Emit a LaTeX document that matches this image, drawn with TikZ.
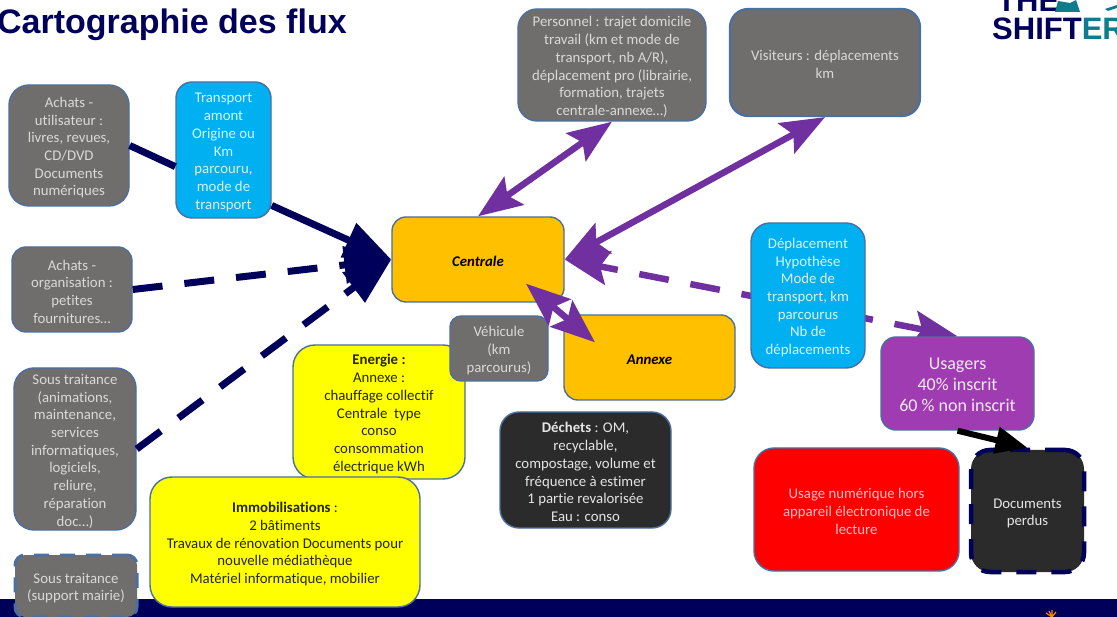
\documentclass[tikz,border=0pt]{standalone}
\usepackage{fontspec}
\setmainfont[Ligatures=NoCommon]{Carlito}
\newfontfamily\titlefont{Liberation Sans}
\usetikzlibrary{arrows.meta,calc}
\pgfdeclarelayer{under}
\pgfsetlayers{under,main}
\newcommand\topgap{\rule{0pt}{14.5pt}}
\definecolor{navy}{HTML}{00005A}
\definecolor{edge}{HTML}{4A6FA0}
\definecolor{greybox}{HTML}{706E6D}
\definecolor{darkbox}{HTML}{2B2B2B}
\definecolor{cyanbox}{HTML}{00B0F0}
\definecolor{orangebox}{HTML}{FFC000}
\definecolor{yellowbox}{HTML}{FFFF00}
\definecolor{redbox}{HTML}{FF0000}
\definecolor{usagerbox}{HTML}{A03CB2}
\definecolor{purpleflow}{HTML}{7030A0}
\definecolor{teal}{HTML}{0E7C8A}
\tikzset{
  x=1pt,y=1pt,
  box/.style={rectangle,draw=edge,line width=1.4pt,align=center,inner sep=0pt,
    font=\fontsize{14.8}{17.7}\selectfont},
  greyb/.style={box,fill=greybox,text=white!85!black},
  cyanb/.style={box,fill=cyanbox,text=white!85!cyanbox},
  orangeb/.style={box,fill=orangebox,text=black,font=\fontsize{14.8}{17.7}\selectfont\bfseries\itshape},
  yellowb/.style={box,fill=yellowbox,text=black!85!yellowbox},
  darkb/.style={box,fill=darkbox,text=white!90!black},
  navyflow/.style={navy,line width=7pt},
  navytip/.style={-{Triangle[length=47pt,width=36pt,sep=0pt]}},
  purpleline/.style={purpleflow,line width=6.5pt},
  purpletips/.style={{Stealth[length=44pt,width=34pt,inset=8pt,sep=0pt]}-{Stealth[length=44pt,width=34pt,inset=8pt,sep=0pt]}},
  longdash/.style={dash pattern=on 30pt off 22pt},
}
\begin{document}
\begin{tikzpicture}
\useasboundingbox (0,0) rectangle (1117,-617);
\clip (0,0) rectangle (1117,-617);
\fill[navy] (0,-599) rectangle (1117,-617);

% Title and logo
\node[anchor=base west,inner sep=0pt,text=navy,font=\titlefont\bfseries\fontsize{34}{34}\selectfont] (title) at (-3,-34) {Cartographie des flux};
\node[anchor=base west,inner sep=0pt,text=navy,font=\titlefont\bfseries\fontsize{31}{31}\selectfont] (logoa) at (992,-40) {SHIFT\textcolor{teal}{ERS}};
\node[anchor=base west,inner sep=0pt,text=navy,font=\titlefont\bfseries\fontsize{31}{31}\selectfont] (logob) at (997,-12) {THE};
\fill[teal] (1055,-12) -- (1058,-1) -- (1070,-3) -- (1076,0) -- (1080,-12) -- cycle;
\fill[teal] (1105,-9) -- (1117,-5) -- (1117,-8) -- (1108,-11) -- cycle;
\draw[orange,line width=1.2pt] (1052,-617) -- (1046,-613) (1052,-617) -- (1049,-611) (1052,-617) -- (1052,-610) (1052,-617) -- (1056,-612);

% Boxes
\node[greyb,minimum width=120pt,minimum height=121pt,rounded corners=20pt] (achatsu) at (69,-145.5)
  {\topgap Achats -\\utilisateur :\\livres, revues,\\CD/DVD\\Documents\\numériques};
\node[cyanb,minimum width=95pt,minimum height=136pt,rounded corners=16pt] (transport) at (223.5,-150)
  {\topgap Transport\\amont\\Origine ou\\Km\\parcouru,\\mode de\\transport};
\node[greyb,minimum width=120pt,minimum height=85pt,rounded corners=14pt] (achatso) at (72,-289.5)
  {\topgap Achats -\\organisation :\\petites\\fournitures…};
\node[greyb,minimum width=122pt,minimum height=162pt,rounded corners=20pt] (soust) at (75,-449)
  {\topgap Sous traitance\\(animations,\\maintenance,\\services\\informatiques,\\logiciels,\\reliure,\\réparation\\doc…)};
\node[greyb,draw=edge,minimum width=122pt,minimum height=62pt,rounded corners=10pt,line width=3pt,dash pattern=on 15pt off 11pt] (soustm) at (76,-586)
  {\topgap Sous traitance\\(support mairie)};
\node[orangeb,minimum width=172pt,minimum height=85pt,rounded corners=14pt] (centrale) at (478,-259.5) {\topgap Centrale};
\node[orangeb,minimum width=171pt,minimum height=85pt,rounded corners=14pt] (annexe) at (649.5,-357.5) {\topgap Annexe};
\node[yellowb,minimum width=172pt,minimum height=134pt,rounded corners=22pt] (energie) at (379,-412)
  {\topgap\textbf{Energie :}\\Annexe :\\chauffage collectif\\Centrale\ \ type\\conso\\consommation\\électrique kWh};
\node[greyb,minimum width=98pt,minimum height=65pt,rounded corners=11pt] (vehicule) at (499,-348.5)
  {\topgap Véhicule\\(km\\parcourus)};
\node[yellowb,minimum width=270pt,minimum height=130pt,rounded corners=22pt] (immo) at (285,-542)
  {\topgap\textbf{Immobilisations} :\\2 bâtiments\\Travaux de rénovation Documents pour\\nouvelle médiathèque\\Matériel informatique, mobilier};
\node[darkb,minimum width=171pt,minimum height=116pt,rounded corners=19pt] (dechets) at (585.5,-470)
  {\topgap\textbf{Déchets} : OM,\\recyclable,\\compostage, volume et\\fréquence à estimer\\1 partie revalorisée\\Eau : conso};
\node[greyb,minimum width=188pt,minimum height=112pt,rounded corners=19pt] (personnel) at (612,-65)
  {\topgap Personnel : trajet domicile\\travail (km et mode de\\transport, nb A/R),\\déplacement pro (librairie,\\formation, trajets\\centrale-annexe…)};
\node[greyb,line width=2.2pt,minimum width=190pt,minimum height=107pt,rounded corners=18pt] (visiteurs) at (825,-62.5)
  {\topgap Visiteurs : déplacements\\km};
\node[cyanb,minimum width=114pt,minimum height=145pt,rounded corners=19pt] (deplacement) at (808,-295.5)
  {\topgap Déplacement\\Hypothèse\\Mode de\\transport, km\\parcourus\\Nb de\\déplacements};
\node[box,fill=usagerbox,text=white!88!usagerbox,minimum width=153pt,minimum height=93pt,rounded corners=15pt,font=\fontsize{18}{21}\selectfont] (usagers) at (957.5,-383.5)
  {\topgap Usagers\\40\% inscrit\\60 \% non inscrit};
\node[box,fill=redbox,text=white!75!redbox,minimum width=205pt,minimum height=123pt,rounded corners=20pt] (usagenum) at (856.5,-509.5)
  {\topgap Usage numérique hors\\appareil électronique de\\lecture};
\node[darkb,draw=navy,line width=4.5pt,dash pattern=on 20pt off 15pt,minimum width=113pt,minimum height=122pt,rounded corners=19pt] (perdus) at (1027.5,-511)
  {\topgap Documents\\perdus};

% Connectors
\draw[navyflow] (achatsu.east) -- (transport.199.7);
\draw[navyflow,navytip] (transport.-49) -- (centrale.west);
\draw[navyflow,navytip,longdash] (achatso.east) -- (centrale.west);
\draw[navyflow,navytip,longdash] (soust.east) -- (centrale.west);
\draw[purpleline,purpletips] (personnel.south) -- (centrale.north);
\draw[purpleline,purpletips] (visiteurs.south) -- (centrale.east);
\begin{pgfonlayer}{under}
\draw[purpleline,purpletips,longdash,dash phase=10pt] (centrale.east) -- (usagers.north);
\end{pgfonlayer}
\draw[purpleline,purpletips] ($(centrale.south)+(48,19)$) -- ($(annexe.north)+(-54.5,-28)$);
\draw[black,line width=6pt,-{Triangle[length=32pt,width=26pt,sep=0pt]}] (usagers.south) -- (perdus.north);
\end{tikzpicture}
\end{document}
